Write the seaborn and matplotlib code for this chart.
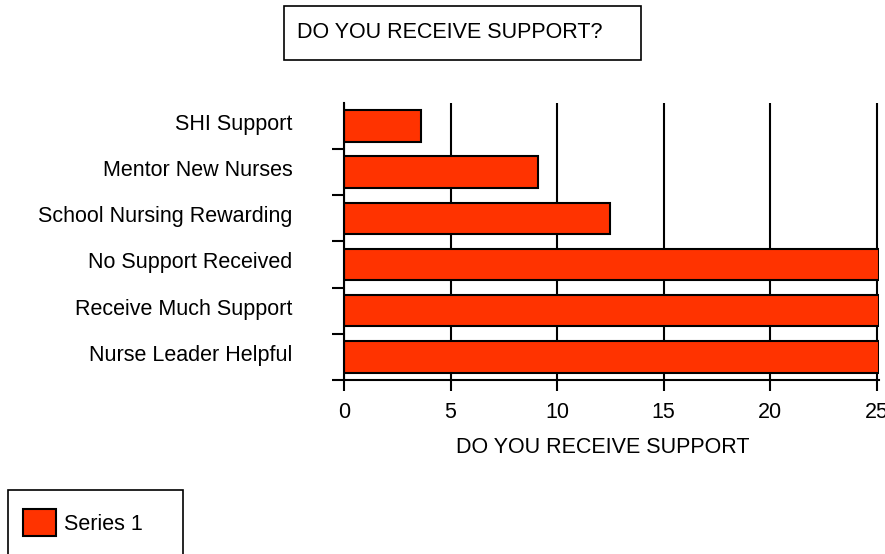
import matplotlib
matplotlib.use('Agg')
from matplotlib import pyplot as plt
from matplotlib.patches import Rectangle
from matplotlib.transforms import ScaledTranslation
import numpy as np
import pandas as pd
import seaborn as sns

# Donnees
categories = ["SHI Support", "Mentor New Nurses", "School Nursing Rewarding",
              "No Support Received", "Receive Much Support", "Nurse Leader Helpful"]
values = [3.6, 9.1, 12.5, 25.1, 25.1, 25.1]
series_name = "Series 1"
x_ticks = [0, 5, 10, 15, 20, 25]
title = "DO YOU RECEIVE SUPPORT?"
x_label = "DO YOU RECEIVE SUPPORT"

BAR_COLOR = "#FF3300"
FS = 15.5
W, H = 885, 554

sns.set_style("ticks")
plt.rcParams['font.family'] = ['Liberation Sans', 'DejaVu Sans']
for k in ['text.color', 'axes.labelcolor', 'xtick.color', 'ytick.color', 'axes.edgecolor']:
    plt.rcParams[k] = 'black'

fig = plt.figure(figsize=(W / 100, H / 100), dpi=100)
# zone du graphique en pixels : x 344 -> 879, y 102.7 -> 380
ax = fig.add_axes([344 / W, 1 - 380 / H, (879 - 344) / W, (380 - 102.7) / H])

df = pd.DataFrame({"cat": categories, "val": values})
sns.barplot(data=df, x="val", y="cat", color=BAR_COLOR, saturation=1,
            edgecolor="black", linewidth=1.5, width=0.68, label=series_name, ax=ax)
if ax.get_legend() is not None:
    ax.get_legend().remove()

ax.set_xlim(0, 25.1)
ax.set_ylim(len(categories) - 0.5, -0.5)
ax.set_xticks(x_ticks)
ax.xaxis.grid(True, color='black', linewidth=1.5)
ax.yaxis.grid(False)
ax.set_axisbelow(True)

sns.despine(ax=ax, top=True, right=True)
ax.spines['left'].set_linewidth(1.5)
ax.spines['bottom'].set_linewidth(1.5)

# graduations entre les categories, etiquettes au centre
pos = np.arange(len(categories))
ax.set_yticks(pos + 0.5)
ax.set_yticklabels([])
ax.set_yticks(pos, minor=True)
ax.set_yticklabels(categories, minor=True)
ax.tick_params(axis='y', which='major', left=True, length=8.6, width=1.5, direction='out')
ax.tick_params(axis='y', which='minor', left=True, length=0, pad=37, labelsize=FS)
ax.tick_params(axis='x', bottom=True, length=8, width=1.5, pad=8, labelsize=FS)

# les etiquettes sont un peu au-dessus du centre des barres
shift = ScaledTranslation(0, 0.04, fig.dpi_scale_trans)
for lbl in ax.get_yticklabels(minor=True):
    lbl.set_transform(lbl.get_transform() + shift)

ax.set_ylabel('')
ax.set_xlabel(x_label, fontsize=FS)
ax.xaxis.set_label_coords((602.7 - 344) / (879 - 344), (380 - 437) / (380 - 102.7))

# Titre encadre
fig.add_artist(Rectangle((284 / W, 1 - 60 / H), (641 - 284) / W, 54 / H,
                         transform=fig.transFigure, fill=False, edgecolor='black', linewidth=1.2))
fig.text(297 / W, 1 - 33 / H, title, ha='left', va='center', fontsize=FS)

# Legende encadree
fig.add_artist(Rectangle((8 / W, 1 - 557 / H), (183 - 8) / W, (557 - 490) / H,
                         transform=fig.transFigure, fill=False, edgecolor='black', linewidth=1.2))
handles, labels = ax.get_legend_handles_labels()
fig.legend(handles, labels, loc='center left', bbox_to_anchor=(23 / W, 1 - 522.5 / H),
           frameon=False, fontsize=FS, borderpad=0, borderaxespad=0,
           handlelength=1.55, handleheight=1.55, handletextpad=0.37)

plt.savefig("out.png", dpi=100)
